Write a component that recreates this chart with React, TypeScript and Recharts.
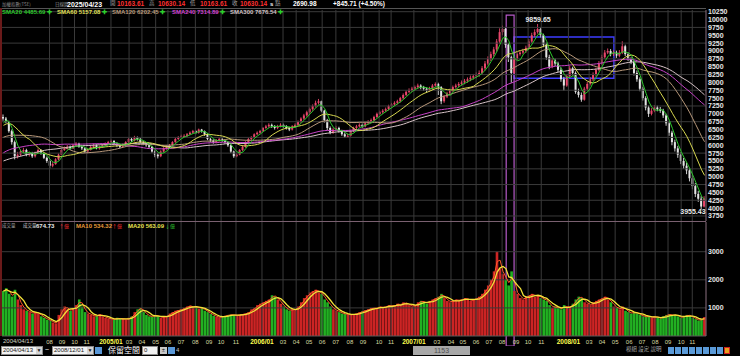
import React from 'react';
import { ComposedChart, Bar, Line, XAxis, YAxis, ReferenceLine, ReferenceArea, ReferenceDot, Cell } from 'recharts';

// weekly closes before the visible window (used only for the moving averages)
const preCloses = [4800, 4700, 4600, 4550, 4400, 4450, 4500, 4400, 4550, 4500, 4250, 4150, 4300, 4350, 4400, 4550, 4700, 4850, 5000, 4900, 4950, 5100, 5200, 5150, 5300, 5350, 5450, 5600, 5650, 5700, 5600, 5550, 5600, 5650, 5900, 6000, 6050, 6000, 5900, 5800, 5700, 5750, 5800, 5850, 5800, 5850, 5890, 6050, 6150, 6200, 6300, 6500, 6650, 6700, 7000, 6800, 6600, 6400, 6700, 6900];

const closes = [
  6850, 6750, 6450, 6100, 5650, 5700, 5800, 5850, 5700, 5750,
  5650, 5750, 5850, 5750, 5600, 5500, 5350, 5400, 5550, 5700,
  5850, 5900, 5950, 5900, 6000, 6050, 5950, 5900, 5800, 5850,
  5950, 6000, 5900, 5950, 6000, 6050, 6100, 6140, 6050, 6000,
  5950, 6000, 6100, 6200, 6150, 6250, 6200, 6100, 6050, 6000,
  5950, 5800, 5700, 5650, 5800, 5900, 5950, 6000, 6100, 6200,
  6250, 6300, 6300, 6350, 6400, 6450, 6400, 6500, 6450, 6350,
  6200, 6150, 6100, 6150, 6200, 6150, 6100, 6000, 5800, 5650,
  5700, 5850, 5950, 6100, 6200, 6250, 6350, 6400, 6450, 6550,
  6600, 6650, 6600, 6550, 6600, 6650, 6600, 6550, 6500, 6600,
  6650, 6750, 6850, 6950, 7050, 7150, 7250, 7350, 7400, 7100,
  6800, 6550, 6400, 6500, 6550, 6450, 6350, 6280, 6300, 6450,
  6550, 6600, 6650, 6600, 6700, 6750, 6800, 6900, 7000, 7050,
  7100, 7150, 7250, 7300, 7350, 7400, 7500, 7600, 7700, 7750,
  7800, 7850, 7900, 7850, 7800, 7750, 7800, 7900, 7950, 7850,
  7400, 7550, 7650, 7750, 7850, 7900, 7950, 8000, 8050, 8100,
  8150, 8200, 8250, 8300, 8450, 8600, 8750, 8900, 9050, 9300,
  9600, 9700, 9200, 8800, 8300, 8750, 8900, 8950, 9000, 9100,
  9300, 9500, 9600, 9700, 9500, 9200, 8800, 8500, 8700, 8600,
  8400, 8100, 7900, 8200, 8450, 8300, 7700, 7600, 7450, 7800,
  7950, 8100, 8250, 8400, 8600, 8800, 8950, 9000, 8900, 8950,
  8850, 8950, 9150, 8900, 8750, 8650, 8300, 8100, 7800, 7500,
  7200, 7000, 7100, 7200, 7150, 7100, 6950, 6700, 6400, 6100,
  5900, 5700, 5500, 5350, 5200, 4950, 4700, 4450, 4300, 4050,
  4300,
];

const highs = [
  6980, 6900, 6780, 6500, 6150, 5790, 5860, 5920, 5890, 5800,
  5790, 5800, 5900, 5880, 5780, 5640, 5540, 5460, 5590, 5740,
  5880, 5960, 6010, 5990, 6050, 6100, 6080, 5990, 5930, 5890,
  5990, 6050, 6030, 5990, 6040, 6090, 6140, 6180, 6160, 6090,
  6040, 6050, 6130, 6240, 6230, 6300, 6280, 6230, 6140, 6090,
  6040, 5980, 5840, 5760, 5840, 5940, 5990, 6040, 6130, 6240,
  6290, 6340, 6350, 6390, 6440, 6490, 6480, 6530, 6520, 6470,
  6380, 6240, 6190, 6200, 6240, 6230, 6180, 6120, 6030, 5830,
  5750, 5880, 5990, 6130, 6240, 6290, 6380, 6440, 6490, 6580,
  6650, 6700, 6690, 6640, 6650, 6700, 6690, 6640, 6590, 6640,
  6700, 6790, 6890, 7000, 7100, 7200, 7300, 7420, 7474, 7420,
  7130, 6840, 6600, 6560, 6620, 6590, 6490, 6400, 6370, 6490,
  6590, 6650, 6700, 6690, 6740, 6800, 6850, 6940, 7040, 7100,
  7150, 7200, 7290, 7350, 7400, 7450, 7540, 7650, 7750, 7810,
  7860, 7900, 7960, 7940, 7890, 7840, 7860, 7950, 8000, 7990,
  7880, 7600, 7700, 7800, 7900, 7960, 8010, 8060, 8110, 8160,
  8220, 8270, 8320, 8380, 8520, 8680, 8830, 8980, 9130, 9380,
  9720, 9807, 9740, 9250, 8850, 8800, 8960, 9020, 9070, 9170,
  9380, 9580, 9690, 9859.65, 9760, 9550, 9260, 8880, 8780, 8760,
  8660, 8470, 8180, 8260, 8520, 8500, 8350, 7800, 7680, 7860,
  8020, 8170, 8320, 8470, 8680, 8880, 9030, 9080, 9060, 9020,
  9010, 9030, 9309, 9200, 8960, 8800, 8700, 8380, 8160, 7860,
  7560, 7260, 7180, 7280, 7260, 7220, 7160, 7000, 6760, 6460,
  6180, 5980, 5780, 5600, 5450, 5280, 5050, 4800, 4550, 4380,
  4380,
];

const lows = [
  6780, 6700, 6400, 6020, 5550, 5580, 5660, 5760, 5650, 5640,
  5600, 5610, 5720, 5700, 5560, 5440, 5255, 5300, 5380, 5520,
  5680, 5820, 5870, 5860, 5880, 5960, 5920, 5850, 5760, 5740,
  5830, 5920, 5870, 5860, 5920, 5970, 6010, 6060, 6000, 5940,
  5900, 5920, 5970, 6070, 6100, 6120, 6150, 6060, 6000, 5950,
  5900, 5760, 5620, 5580, 5620, 5770, 5860, 5920, 5970, 6080,
  6170, 6220, 6250, 6260, 6320, 6370, 6350, 6370, 6400, 6300,
  6160, 6100, 6050, 6060, 6110, 6100, 6050, 5950, 5750, 5600,
  5618, 5680, 5820, 5920, 6070, 6160, 6220, 6320, 6370, 6420,
  6520, 6560, 6550, 6500, 6510, 6570, 6550, 6500, 6450, 6470,
  6560, 6620, 6710, 6810, 6910, 7000, 7100, 7200, 7300, 7050,
  6720, 6480, 6350, 6360, 6460, 6400, 6300, 6232, 6240, 6270,
  6420, 6510, 6570, 6550, 6570, 6660, 6710, 6770, 6870, 6960,
  7000, 7060, 7110, 7200, 7250, 7300, 7360, 7460, 7560, 7660,
  7700, 7740, 7800, 7780, 7730, 7680, 7700, 7760, 7860, 7600,
  7306, 7350, 7500, 7610, 7700, 7800, 7850, 7900, 7940, 7990,
  8040, 8090, 8130, 8180, 8240, 8380, 8540, 8680, 8820, 8980,
  9240, 9500, 9100, 8650, 7987, 8250, 8700, 8850, 8900, 8940,
  9060, 9250, 9440, 9550, 9430, 9120, 8720, 8420, 8450, 8520,
  8320, 8020, 7740, 7860, 8150, 8220, 7640, 7520, 7384, 7420,
  7740, 7900, 8040, 8180, 8350, 8550, 8740, 8900, 8830, 8840,
  8780, 8800, 8900, 8840, 8680, 8580, 8220, 8020, 7720, 7420,
  7110, 6900, 6950, 7050, 7080, 7030, 6870, 6620, 6300, 6000,
  5800, 5600, 5400, 5250, 5080, 4850, 4600, 4350, 4200, 3955.43,
  4020,
];

// average daily turnover per week (億)
const volumes = [
  1600, 1700, 1500, 1400, 1650, 1300, 1100, 950, 900, 850,
  800, 850, 800, 700, 650, 580, 550, 480, 450, 750,
  950, 1050, 950, 900, 1000, 1100, 1300, 1050, 850, 800,
  750, 700, 720, 780, 700, 650, 620, 600, 580, 650,
  600, 620, 580, 650, 700, 850, 950, 1000, 850, 750,
  700, 680, 750, 700, 650, 680, 720, 800, 850, 900,
  920, 950, 1000, 1050, 1080, 1000, 1050, 980, 1000, 900,
  850, 780, 720, 680, 650, 700, 720, 750, 760, 740,
  730, 760, 780, 800, 850, 950, 1000, 1100, 1150, 1200,
  1250, 1300, 1450, 1400, 1300, 1150, 1050, 950, 900, 950,
  950, 1050, 1200, 1350, 1450, 1550, 1600, 1650, 1550, 1500,
  1300, 1200, 1050, 950, 900, 850, 800, 780, 760, 750,
  780, 800, 850, 880, 920, 950, 1000, 980, 1000, 1050,
  1000, 1050, 1100, 1050, 1100, 1150, 1100, 1200, 1150, 1100,
  1050, 1100, 1200, 1250, 1200, 1150, 1250, 1300, 1350, 1400,
  1500, 1350, 1250, 1200, 1250, 1300, 1250, 1300, 1350, 1300,
  1250, 1300, 1350, 1400, 1500, 1650, 1800, 2000, 2300, 3000,
  2400, 2200, 2000, 1800, 2300, 1600, 1500, 1350, 1300, 1400,
  1450, 1500, 1400, 1450, 1350, 1300, 1250, 1100, 1000, 1050,
  1000, 950, 1100, 1000, 1050, 1150, 1300, 1400, 1350, 1200,
  1150, 1100, 1200, 1250, 1300, 1350, 1400, 1300, 1200, 1050,
  1000, 950, 1050, 900, 850, 800, 850, 800, 750, 700,
  680, 700, 650, 700, 650, 620, 700, 750, 780, 720,
  750, 700, 650, 700, 750, 720, 650, 600, 550, 600,
  674,
];

const monthTickIdx = [15.76, 20.04, 24.32, 28.5, 36.8, 43.0, 47.4, 52.1, 56.3, 60.8, 65.7, 70.4, 74.5, 79.6, 88.5, 95.7, 100.2, 104.6, 109.1, 113.8, 118.6, 123.1, 128.6, 132.7, 140.5, 148.4, 153.2, 157.3, 161.8, 166.2, 170.7, 175.5, 179.6, 184.1, 193.4, 200.5, 204.9, 209.4, 214.2, 218.6, 223.1, 227.5, 232.0, 235.8];
const monthTickLabels = ['08', '09', '10', '11', '2005/01', '03', '04', '05', '06', '07', '08', '09', '10', '11', '2006/01', '03', '04', '05', '06', '07', '08', '09', '10', '11', '2007/01', '03', '04', '05', '06', '07', '08', '09', '10', '11', '2008/01', '03', '04', '05', '06', '07', '08', '09', '10', '11'];

const priceTicks = [3750, 4000, 4250, 4500, 4750, 5000, 5250, 5500, 5750, 6000, 6250, 6500, 6750, 7000, 7250, 7500, 7750, 8000, 8250, 8500, 8750, 9000, 9250, 9500, 9750, 10000, 10250];
const priceGrid = [3750, 4250, 4750, 5250, 5750, 6250, 6750, 7250, 7750, 8250, 8750, 9250, 9750, 10250];
const volTicks = [1000, 2000, 3000];

const smaDefs = [
  { key: 's20', n: 4, color: '#2cc82c' },
  { key: 's60', n: 12, color: '#d8d850' },
  { key: 's120', n: 24, color: '#b8987a' },
  { key: 's240', n: 48, color: '#c842c8' },
  { key: 's300', n: 60, color: '#d8c4c8' },
];

const allCloses = preCloses.concat(closes);
const avg = (arr: number[], end: number, n: number) => {
  const start = Math.max(0, end - n + 1);
  let s = 0;
  for (let j = start; j <= end; j++) s += arr[j];
  return s / (end - start + 1);
};

const rows = closes.map((c, k) => {
  const o = k === 0 ? preCloses[preCloses.length - 1] : closes[k - 1];
  const r: any = {
    i: k, o, c, h: Math.max(highs[k], o, c), l: Math.min(lows[k], o, c),
    vol: volumes[k], up: c >= o,
    vma10: avg(volumes, k, 2), vma20: avg(volumes, k, 4),
  };
  smaDefs.forEach((d) => { r[d.key] = avg(allCloses, k + preCloses.length, d.n); });
  return r;
});

const NUM = '"Liberation Sans", Arial, sans-serif';
const CJK = '"Noto Sans CJK TC", "Noto Sans CJK SC", sans-serif';
const GRID = '#3a3a3a';

const Candle = (props: any) => {
  const { x, y, width, height, payload } = props;
  if (!payload || height == null) return null;
  const { o, c, h, l } = payload;
  const rng = h - l || 1;
  const yo = y + ((h - o) / rng) * height;
  const yc = y + ((h - c) / rng) * height;
  const col = c >= o ? '#e8466a' : '#e4e4e4';
  const cx = x + width / 2;
  const top = Math.min(yo, yc);
  const bh = Math.max(Math.abs(yc - yo), 1);
  return (
    <g>
      <line x1={cx} x2={cx} y1={y} y2={y + height} stroke={col} strokeWidth={0.9} />
      <rect x={x} y={top} width={width} height={bh} fill={col} />
    </g>
  );
};

const MonthTick = (props: any) => {
  const { x, y, payload } = props;
  const k = monthTickIdx.indexOf(payload.value);
  const lab = k >= 0 ? monthTickLabels[k] : '';
  const yr = lab.length > 2;
  return (
    <text x={x} y={y + 7.5} textAnchor="middle" fontSize={yr ? 6.5 : 6} fontWeight={yr ? 700 : 400}
      fill={yr ? '#ffff50' : '#d8d8a0'} fontFamily={NUM}>{lab}</text>
  );
};

const OpenTopBox = (p: any) => (
  <path d={`M${p.x},${p.y + p.height} L${p.x},${p.y} L${p.x + p.width},${p.y} L${p.x + p.width},${p.y + p.height}`}
    fill="none" stroke="#b65ac8" strokeWidth={1.2} />
);
const OpenBottomBox = (p: any) => (
  <path d={`M${p.x},${p.y} L${p.x},${p.y + p.height + 10} L${p.x + p.width},${p.y + p.height + 10} L${p.x + p.width},${p.y}`}
    fill="none" stroke="#b65ac8" strokeWidth={1.2} />
);

const T = ({ x, y, c, s = 6, b = false, f = NUM, children }: any) => (
  <span style={{ position: 'absolute', left: x, top: y, color: c, fontSize: s, fontWeight: b ? 700 : 400, fontFamily: f, lineHeight: 1, whiteSpace: 'nowrap' }}>{children}</span>
);

const axisTick = { fill: '#e6e6e6', fontSize: 7, fontWeight: 700, fontFamily: NUM };

const Box = ({ x, w, children, arrow = false }: any) => (
  <div style={{ position: 'absolute', left: x, top: 346, width: w, height: 9, background: '#f2f2f2', border: '1px solid #8a8a8a', boxSizing: 'border-box', fontSize: 6, fontFamily: NUM, color: '#202020', lineHeight: '7px', paddingLeft: 1, overflow: 'hidden' }}>
    {children}
    {arrow && <div style={{ position: 'absolute', right: 0, top: 0, width: 6, height: 7, background: '#d4d4d4', fontSize: 5, textAlign: 'center', lineHeight: '7px' }}>▼</div>}
  </div>
);

export default function App() {
  const icons = [668, 675, 682, 689, 696, 703, 710, 717, 724];
  return (
    <div style={{ position: 'fixed', left: 0, top: 0, width: 740, height: 356, background: '#000', overflow: 'hidden' }}>
      {/* price panel */}
      <div style={{ position: 'absolute', left: 0, top: 0 }}>
        <ComposedChart width={740} height={222} data={rows} margin={{ top: 10, right: 0, bottom: 1, left: 2 }}>
          <XAxis dataKey="i" type="number" domain={[-0.5, 240.5]} hide allowDataOverflow />
          <YAxis orientation="right" width={34} domain={[3590, 10304]} ticks={priceTicks} interval={0}
            tick={axisTick} tickLine={false} tickSize={1} tickMargin={1} axisLine={{ stroke: '#8c7080' }} allowDataOverflow />
          {priceGrid.map((v) => <ReferenceLine key={'g' + v} y={v} stroke={GRID} strokeWidth={1} />)}
          {monthTickIdx.map((v) => <ReferenceLine key={'m' + v} x={v} stroke={GRID} strokeWidth={1} />)}
          {smaDefs.slice().reverse().map((d) => (
            <Line key={d.key} dataKey={d.key} stroke={d.color} strokeWidth={1} dot={false} activeDot={false} isAnimationActive={false} type="linear" />
          ))}
          <Bar dataKey={(d: any) => [d.l, d.h]} barSize={2} shape={Candle} isAnimationActive={false} />
          <ReferenceArea x1={174.8} x2={209} y1={8130} y2={9441} fill="none" stroke="#3c3cff" strokeWidth={1.5} ifOverflow="visible" />
          <ReferenceArea x1={172.1} x2={174.8} y1={3590} y2={10144} shape={OpenTopBox} ifOverflow="visible" />
          <ReferenceDot x={183} y={9859.65} r={1} ifOverflow="visible"
            shape={(p: any) => <text x={p.cx} y={p.cy - 2} textAnchor="middle" fontSize={7} fontWeight={700} fill="#e8e8e8" fontFamily={NUM}>9859.65</text>} />
          <ReferenceDot x={239} y={3955.43} r={1} ifOverflow="visible"
            shape={(p: any) => <text x={p.cx + 4} y={p.cy + 4} textAnchor="end" fontSize={7} fontWeight={700} fill="#e8e8e8" fontFamily={NUM}>3955.43</text>} />
        </ComposedChart>
      </div>

      {/* volume panel */}
      <div style={{ position: 'absolute', left: 0, top: 222 }}>
        <ComposedChart width={740} height={124} data={rows} margin={{ top: 0, right: 0, bottom: 0, left: 2 }}>
          <XAxis dataKey="i" type="number" domain={[-0.5, 240.5]} ticks={monthTickIdx} interval={0} tick={<MonthTick />}
            tickLine={false} tickSize={0} tickMargin={0} axisLine={{ stroke: '#5a5a5a' }} height={10} allowDataOverflow />
          <YAxis orientation="right" width={34} domain={[0, 4057]} ticks={volTicks} interval={0}
            tick={axisTick} tickLine={false} tickSize={1} tickMargin={1} axisLine={{ stroke: '#8c7080' }} allowDataOverflow />
          {volTicks.map((v) => <ReferenceLine key={'vg' + v} y={v} stroke={GRID} strokeWidth={1} />)}
          {monthTickIdx.map((v) => <ReferenceLine key={'vm' + v} x={v} stroke={GRID} strokeWidth={1} />)}
          <Bar dataKey="vol" barSize={3} isAnimationActive={false}>
            {rows.map((r) => <Cell key={'c' + r.i} fill={r.up ? '#cc2424' : '#22b022'} />)}
          </Bar>
          <Line dataKey="vma10" stroke="#ff5a2a" strokeWidth={1} dot={false} activeDot={false} isAnimationActive={false} type="linear" />
          <Line dataKey="vma20" stroke="#f2e23a" strokeWidth={1.3} dot={false} activeDot={false} isAnimationActive={false} type="linear" />
          <ReferenceArea x1={172.1} x2={174.8} y1={0} y2={4057} shape={OpenBottomBox} ifOverflow="visible" />
        </ComposedChart>
      </div>

      {/* frame lines */}
      <div style={{ position: 'absolute', left: 1, top: 8, width: 705, height: 1, background: '#555' }} />
      <div style={{ position: 'absolute', left: 0, top: 8, width: 2, height: 328, background: '#6a1a1a' }} />
      <div style={{ position: 'absolute', left: 1, top: 221, width: 705, height: 1, background: '#7a6070' }} />

      {/* header */}
      <T x={2} y={1.5} c="#8c8c8c" s={4.5} f={CJK}>加權指數(TSE)</T>
      <T x={55} y={1.5} c="#9a9a9a" s={4.5} f={CJK}>日線圖</T>
      <T x={67} y={0.5} c="#ffffff" s={7} b>2025/04/23</T>
      <T x={110} y={1} c="#a0a0a0" s={5.5} f={CJK}>開</T>
      <T x={117} y={0.8} c="#ff3030" s={6.5} b>10163.61</T>
      <T x={149} y={1} c="#a0a0a0" s={5.5} f={CJK}>高</T>
      <T x={158} y={0.8} c="#ff3030" s={6.5} b>10630.14</T>
      <T x={190} y={1} c="#a0a0a0" s={5.5} f={CJK}>低</T>
      <T x={200} y={0.8} c="#ff3030" s={6.5} b>10163.61</T>
      <T x={232} y={1} c="#a0a0a0" s={5.5} f={CJK}>收</T>
      <T x={240} y={0.8} c="#ff3030" s={6.5} b>10630.14</T>
      <T x={270} y={0.8} c="#ffffff" s={6} b>s</T>
      <T x={275} y={1} c="#a0a0a0" s={5.5} f={CJK}>點</T>
      <T x={293} y={0.8} c="#ffffff" s={6.5} b>2690.98</T>
      <T x={333} y={0.8} c="#ffffff" s={6.5} b>+845.71 (+4.50%)</T>

      {/* SMA legend */}
      <T x={2} y={9} c="#2cc82c" s={6} b>SMA20 4485.69 <span style={{ color: '#2cd02c' }}>✚</span></T>
      <T x={57} y={9} c="#e0e058" s={6} b>SMA60 5157.08 <span style={{ color: '#2cd02c' }}>✚</span></T>
      <T x={112} y={9} c="#b8987a" s={6} b>SMA120 6202.45 <span style={{ color: '#2cd02c' }}>✚</span></T>
      <T x={172} y={9} c="#d040d0" s={6} b>SMA240 7314.89 <span style={{ color: '#2cd02c' }}>✚</span></T>
      <T x={230} y={9} c="#d0c0c4" s={6} b>SMA300 7676.54 <span style={{ color: '#2cd02c' }}>✚</span></T>

      {/* volume legend */}
      <T x={2} y={223} c="#a0a0a0" s={4.5} f={CJK}>成交量</T>
      <T x={23} y={223} c="#c8c8c8" s={4.5} f={CJK}>成交量</T>
      <T x={36} y={222.5} c="#e8e8e8" s={6} b>674.73</T>
      <T x={59} y={223} c="#ff3030" s={5} f={CJK}>↑億</T>
      <T x={76} y={222.5} c="#e89a3a" s={6} b>MA10 534.32</T>
      <T x={112} y={223} c="#ff3030" s={5} f={CJK}>↑億</T>
      <T x={128} y={222.5} c="#e8e050" s={6} b>MA20 563.09</T>
      <T x={165} y={223} c="#30d030" s={5} f={CJK}>↓億</T>

      <T x={3} y={338} c="#d0d0c0" s={6}>2004/04/13</T>

      {/* toolbar */}
      <Box x={1} w={42} arrow>2004/04/13</Box>
      <T x={45} y={346} c="#ffffff" s={7}>~</T>
      <Box x={52} w={42} arrow>2008/12/01</Box>
      <div style={{ position: 'absolute', left: 95, top: 347, width: 7, height: 7, background: '#5a98d8' }} />
      <T x={108} y={345.5} c="#ffffff" s={8} f={CJK}>保留空間</T>
      <Box x={142} w={16}>0</Box>
      <div style={{ position: 'absolute', left: 160, top: 347, width: 7, height: 7, background: '#c8c8c8', fontSize: 6, lineHeight: '7px', textAlign: 'center' }}>±</div>
      <div style={{ position: 'absolute', left: 168, top: 347, width: 7, height: 7, background: '#5a98d8' }} />
      <T x={176} y={347} c="#c0c0c0" s={6}>4</T>
      <div style={{ position: 'absolute', left: 413, top: 346, width: 57, height: 9, background: '#a8a8a8', fontSize: 7, lineHeight: '9px', textAlign: 'center', color: '#505050', fontFamily: NUM }}>1153</div>
      <T x={626} y={347} c="#a8a8a8" s={5.5} f={CJK}>模組 設定 說明</T>
      {icons.map((x, k) => (
        <div key={'ic' + k} style={{ position: 'absolute', left: x, top: 347, width: 6, height: 7, background: k === icons.length - 1 ? '#e8a020' : '#5a9ad8', border: k === icons.length - 1 ? '1px solid #d02020' : 'none', boxSizing: 'border-box' }} />
      ))}
    </div>
  );
}
